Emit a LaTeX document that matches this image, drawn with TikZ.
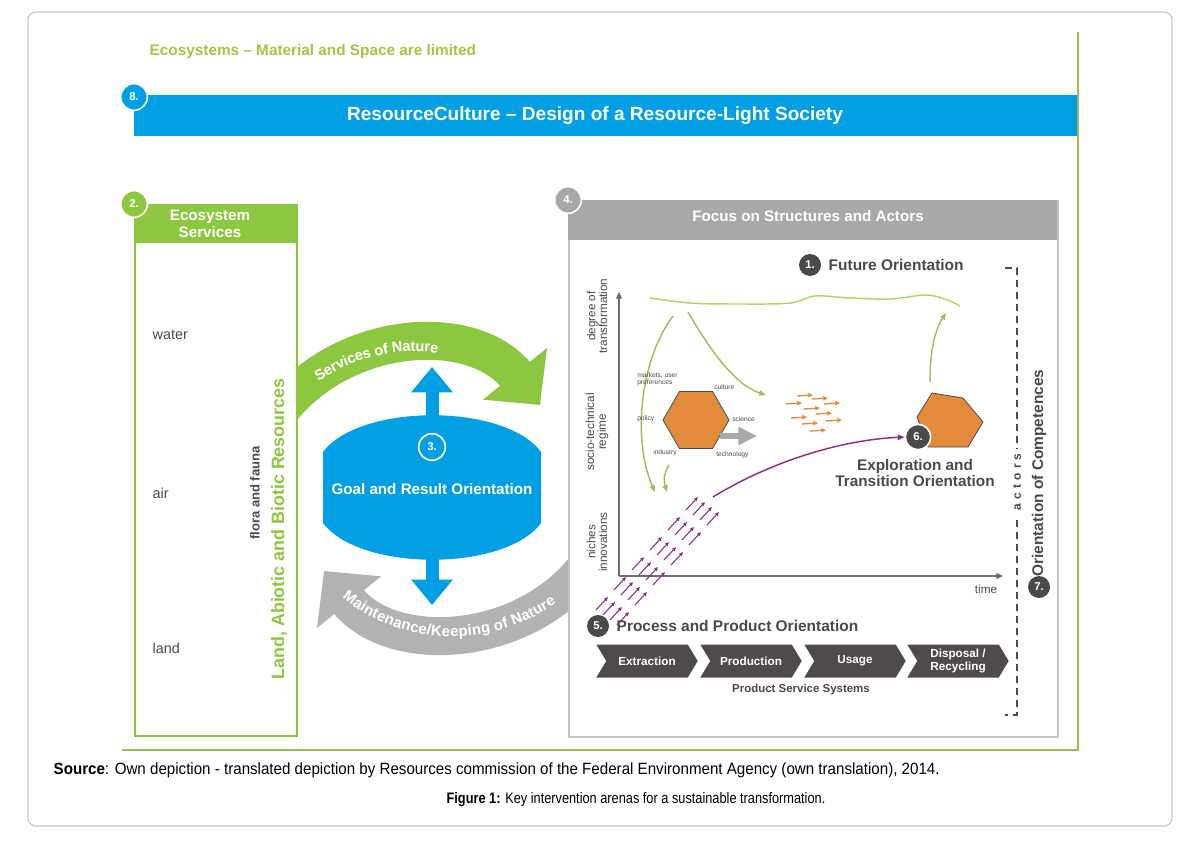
\documentclass[tikz,border=0pt]{standalone}
\usepackage{fontspec}
\setmainfont{Liberation Sans}
\newfontfamily\capfont[FakeStretch=0.84]{Liberation Sans}
\newfontfamily\srcfont[FakeStretch=0.93]{Liberation Sans}
\usepackage{xcolor}
\usepackage{tikz}
\usetikzlibrary{arrows.meta,positioning,shapes.geometric,shapes.symbols,decorations.text}
\newcommand{\fsz}[2]{\fontsize{#1}{#2}\selectfont}
\definecolor{rcblue}{HTML}{009FE3}
\definecolor{ecogreen}{HTML}{8DC63F}
\definecolor{limetext}{HTML}{A3C644}
\definecolor{framegreen}{HTML}{9DBD50}
\definecolor{headgray}{HTML}{A8A8A8}
\definecolor{boxgray}{HTML}{C4C4C4}
\definecolor{darkgray}{HTML}{4A4A4A}
\definecolor{chevgray}{HTML}{4F4A4B}
\definecolor{hexorange}{HTML}{E38B3A}
\definecolor{nichepurple}{HTML}{8E2F82}
\definecolor{wavegreen}{HTML}{B2D465}
\definecolor{arcgray}{HTML}{B2B2B2}

\begin{document}
\begin{tikzpicture}[x=0.75pt, y=-0.75pt, font=\fsz{10.8}{13},
  numdot/.style={circle, draw=white, line width=1.2pt, text=white, font=\bfseries\fsz{8.5}{10}, inner sep=0pt, minimum size=20pt},
  darkdot/.style={circle, fill=darkgray, text=white, font=\bfseries\fsz{8.5}{10}, inner sep=0pt, minimum size=16.5pt},
  head/.style={text=white, font=\bfseries\fsz{11.4}{12.8}, align=center},
  bold/.style={text=darkgray, font=\bfseries\fsz{11.6}{13}},
  band/.style={line width=28.5pt},
  chev/.style={shape=signal, signal from=west, signal to=east, signal pointer angle=118, fill=chevgray, text=white,
               font=\bfseries\fsz{8.8}{9.6}, align=center, minimum width=76pt, minimum height=24.75pt, inner sep=1pt},
  axlbl/.style={rotate=90, align=center, text=darkgray, font=\fsz{8.8}{8.8}},
  hexlbl/.style={anchor=west, align=left, text=darkgray, font=\fsz{5}{5.4}, inner sep=0pt},
  greenarr/.style={wavegreen!90!black, line width=1.1pt, -{Triangle[length=5pt,width=4pt]}},
  orarr/.style={hexorange, line width=1pt, -{Triangle[length=3.5pt,width=3.2pt]}},
  niche/.style={nichepurple, line width=0.8pt, -{Triangle[length=3pt,width=2.6pt]}}]
\useasboundingbox (0,0) rectangle (1186,842);
\draw[gray!45, line width=0.8pt, rounded corners=6pt] (28,12) rectangle (1172,826);

% frame of the ecosystems
\node[anchor=west, text=limetext, font=\bfseries\fsz{11.5}{13}] (limits) at (145,52) {Ecosystems -- Material and Space are limited};
\node[fill=rcblue, anchor=north west, inner sep=0pt, minimum width=708pt, minimum height=30.75pt] (banner) at (134,95) {};
\node[text=white, font=\bfseries\fsz{14.3}{16}] (title) at (595,116) {ResourceCulture -- Design of a Resource-Light Society};
\node[numdot, fill=rcblue] (n8) at (134,97) {8.};
\draw[framegreen, line width=2.2pt] (1078,32) -- (1078,750) -- (122,750);

% the two loops round goal and result
\draw[ecogreen, band, -{Triangle[length=30pt,width=60pt]}] (270,425) .. controls (330,330) and (470,318) .. (540,405);
\draw[arcgray, band, -{Triangle[length=30pt,width=60pt]}] (594,556) .. controls (534,648) and (394,658) .. (324,571);
\path[decorate, decoration={text along path, raise=-4pt, text align={left indent=50pt},
      text={|\fsz{11}{13}\bfseries\color{white}|Services of Nature}}]
  (270,425) .. controls (330,330) and (470,318) .. (540,405);
\path[decorate, decoration={text along path, raise=-4pt, text align={left indent=23pt},
      text={|\fsz{11.2}{13}\bfseries\color{white}|Maintenance/Keeping of Nature}}]
  (324,571) .. controls (394,658) and (534,648) .. (594,556);

\draw[rcblue, line width=9.75pt, {Triangle[length=19pt,width=30pt]}-{Triangle[length=19pt,width=30pt]}] (432,367) -- (432,605);
\fill[rcblue] (323,452) .. controls (360,403) and (505,403) .. (541,452) -- (541,523)
  .. controls (505,572) and (360,572) .. (323,523) -- cycle;
\node[head] (goal) at (432,489) {Goal and Result Orientation};
\node[numdot, minimum size=20pt] (n3) at (432,447) {3.};

% ecosystem services
\node[draw=ecogreen, line width=1.5pt, fill=white, anchor=north west, inner sep=0pt, minimum width=121.5pt, minimum height=398pt] (ecobox) at (134,204) {};
\fill[ecogreen] (134,204) rectangle (296,243);
\node[head] (ecohead) at (210,224) {Ecosystem\\Services};
\node[numdot, fill=ecogreen] (n2) at (134,204) {2.};
\node[anchor=west, text=darkgray] (water) at (148,335) {water};
\node[anchor=west, text=darkgray] (air) at (148,493) {air};
\node[anchor=west, text=darkgray] (land) at (148,648) {land};
\node[rotate=90, text=darkgray, font=\bfseries\fsz{9.8}{11}] (flora) at (255,493) {flora and fauna};
\node[rotate=90, text=ecogreen, font=\bfseries\fsz{13.4}{15}] (abiotic) at (279,529) {Land, Abiotic and Biotic Resources};

% structures and actors
\node[draw=boxgray, line width=1.2pt, fill=white, anchor=north west, inner sep=0pt, minimum width=366.75pt, minimum height=402pt] (focus) at (568,200) {};
\fill[headgray] (568,200) rectangle (1057,240);
\node[head] (focushead) at (808,216) {Focus on Structures and Actors};
\node[numdot, fill=headgray] (n4) at (568,200) {4.};

\node[darkdot] (n1) at (810,265) {1.};
\node[bold, anchor=west] (future) at (824,265) {Future Orientation};

\coordinate (origin) at (619,576);
\draw[darkgray!80, line width=0.9pt, -{Triangle[length=5pt,width=4.5pt]}] (origin) -- (619,292);
\draw[darkgray!80, line width=0.9pt, -{Triangle[length=5pt,width=4.5pt]}] (origin) -- (1003,576);
\node[axlbl] (yl1) at (597,316) {degree of\\transformation};
\node[axlbl] (yl2) at (597,432) {socio-technical\\regime};
\node[axlbl] (yl3) at (597,542) {niches\\innovations};
\node[text=darkgray, font=\fsz{8.8}{10}] (time) at (986,589) {time};

\draw[wavegreen, line width=1.1pt] plot[smooth, tension=0.6] coordinates {(650,298) (690,303) (740,304) (790,303) (815,296) (850,298) (890,299) (925,295) (945,299) (960,306)};
\draw[greenarr] (673,316) .. controls (640,360) and (632,440) .. (655,492);
\draw[greenarr] (669,465) .. controls (663,475) and (664,482) .. (667,492);
\draw[greenarr] (688,312) .. controls (710,350) and (735,385) .. (766,395);
\draw[greenarr] (930,382) .. controls (930,350) and (935,330) .. (946,313);

\node[regular polygon, regular polygon sides=6, minimum size=49.5pt, inner sep=0pt, fill=hexorange, draw=darkgray, line width=0.6pt] (regime) at (696,420) {};
\node[hexlbl] (l1) at (637,379) {markets, user\\preferences};
\node[hexlbl] (l2) at (714,387) {culture};
\node[hexlbl] (l3) at (637,419) {policy};
\node[hexlbl] (l4) at (732,419) {science};
\node[hexlbl] (l5) at (653,453) {industry};
\node[hexlbl] (l6) at (716,455) {technology};
\draw[headgray, line width=5pt, -{Triangle[length=14pt,width=13pt]}] (720,436) -- (757,436);

\foreach \ax/\ay in {786/404, 797/396, 804/409, 812/399, 791/418, 802/424, 816/414, 824/404, 810/431, 826/421}
  \draw[orarr] (\ax,\ay) -- ++(16,-1);

\draw[fill=hexorange, draw=darkgray, line width=0.6pt] (932,393) -- (963,398) -- (983,422) -- (968,447) -- (928,447) -- (917,417) -- cycle;
\node[numdot, fill=darkgray, minimum size=19pt] (n6) at (918,437) {6.};
\node[align=center, text=darkgray, font=\bfseries\fsz{11.5}{12.6}] (explore) at (915,473) {Exploration and\\Transition Orientation};

\coordinate (nichetop) at (713,497);
\foreach \i in {0,...,3}
  \foreach \j in {0,...,5}
    \draw[niche] ({596+7*\i+18*\j},{610+5*\i-20*\j}) -- ++(12,-13);
\draw[nichepurple, line width=1.1pt, -{Triangle[length=5pt,width=4pt]}] (nichetop) .. controls (770,462) and (840,440) .. (n6.west);

\draw[darkgray, line width=1.2pt, dash pattern=on 5pt off 4pt] (1005,268) -- (1017,268) -- (1017,715) -- (1005,715);
\node[rotate=90, fill=white, text=darkgray, font=\bfseries\fsz{9}{10}] (actors) at (1017,482) {a\hspace{3.2pt}c\hspace{3.2pt}t\hspace{3.2pt}o\hspace{3.2pt}r\hspace{3.2pt}s};
\node[rotate=90, bold] (compet) at (1039,473) {Orientation of Competences};
\node[darkdot] (n7) at (1039,587) {7.};

\node[darkdot] (n5) at (598,626) {5.};
\node[bold, anchor=west] (process) at (612,626) {Process and Product Orientation};
\node[chev] (c1) at (647,661) {Extraction};
\node[chev] (c2) at (751,661) {Production};
\node[chev] (c3) at (855,661) {Usage};
\node[chev] (c4) at (958,661) {Disposal /\\Recycling};
\node[text=darkgray, font=\bfseries\fsz{8.6}{10}] (pss) at (801,690) {Product Service Systems};

% caption
\node[anchor=west, font=\srcfont\fsz{12.2}{14}] (source) at (49,770) {\textbf{Source}: Own depiction - translated depiction by Resources commission of the Federal Environment Agency (own translation), 2014.};
\node[font=\capfont\fsz{11.4}{13}] (caption) at (636,800) {\textbf{Figure 1:} Key intervention arenas for a sustainable transformation.};
\end{tikzpicture}
\end{document}
